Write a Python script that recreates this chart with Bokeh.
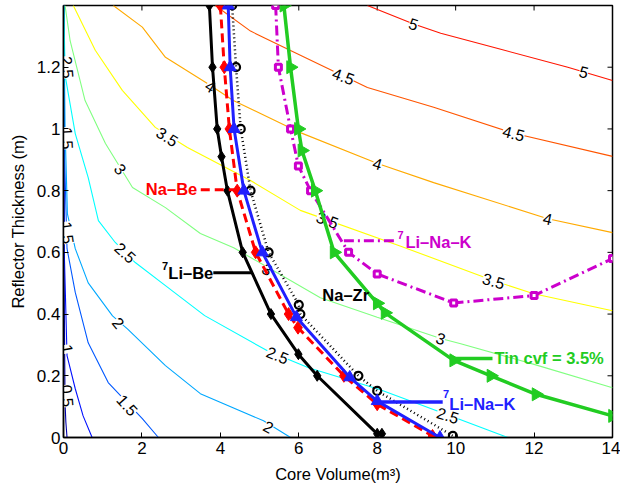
import math
from bokeh.plotting import figure
from bokeh.models import Range1d, FixedTicker, Label
from bokeh.core.properties import value
from bokeh.embed import file_html
from bokeh.resources import INLINE

FONT = "Liberation Sans"

# ---------------- data ----------------
x_ticks = [0, 2, 4, 6, 8, 10, 12, 14]
y_ticks = [0, 0.2, 0.4, 0.6, 0.8, 1.0, 1.2]

# contour lines (core volume, reflector thickness)
c05_v = [0.003, 0.01, 0.04, 0.06, 0.09]
c05_t = [1.4, 0.6, 0.11, 0.05, 0.0]
c10_v = [0.004, 0.02, 0.09, 0.3, 0.5, 0.73]
c10_t = [1.4, 0.6, 0.265, 0.158, 0.07, 0.0]
c15_v = [0.006, 0.03, 0.09, 0.3, 0.63, 1.14, 2.01, 2.42]
c15_t = [1.4, 0.9, 0.612, 0.47, 0.307, 0.178, 0.061, 0.0]
c20_v = [0.008, 0.04, 0.1, 0.3, 0.63, 1.25, 1.63, 2.6, 3.49, 5.1, 5.79]
c20_t = [1.4, 1.0, 0.725, 0.612, 0.501, 0.394, 0.352, 0.233, 0.142, 0.054, 0.0]
c25_v = [0.01, 0.03, 0.05, 0.3, 0.63, 0.89, 1.32, 1.83, 2.6, 3.6, 5.2, 6.25, 8.08, 9.79, 11.33]
c25_t = [1.4, 1.25, 1.167, 0.985, 0.842, 0.703, 0.632, 0.567, 0.492, 0.395, 0.281, 0.226, 0.155, 0.074, 0.0]
c30_v = [0.04, 0.17, 0.55, 1.07, 1.76, 2.6, 3.49, 4.34, 6.55, 8.0, 9.62, 10.13, 12.0, 14.0]
c30_t = [1.4, 1.285, 1.092, 0.953, 0.81, 0.745, 0.661, 0.615, 0.453, 0.39, 0.321, 0.304, 0.237, 0.161]
c35_v = [0.25, 0.81, 1.5, 2.34, 3.16, 4.77, 6.04, 8.6, 10.97, 11.99, 14.0]
c35_t = [1.4, 1.255, 1.125, 1.005, 0.94, 0.833, 0.736, 0.62, 0.508, 0.466, 0.411]
c40_v = [1.27, 2.01, 2.6, 3.67, 4.33, 6.04, 8.01, 9.44, 12.35, 14.0]
c40_t = [1.4, 1.33, 1.232, 1.147, 1.092, 0.988, 0.888, 0.826, 0.709, 0.664]
c45_v = [3.87, 4.77, 6.04, 7.75, 9.44, 11.48, 14.0]
c45_t = [1.4, 1.317, 1.239, 1.134, 1.07, 0.986, 0.911]
c50_v = [7.75, 8.93, 9.62, 11.15, 12.86, 14.0]
c50_t = [1.4, 1.34, 1.31, 1.258, 1.2, 1.157]

contour_paths = [(c05_v, c05_t), (c10_v, c10_t), (c15_v, c15_t), (c20_v, c20_t),
                 (c25_v, c25_t), (c30_v, c30_t), (c35_v, c35_t), (c40_v, c40_t),
                 (c45_v, c45_t), (c50_v, c50_t)]
contour_colors = ["#0000aa", "#0010ff", "#0058ff", "#00a8ff", "#00ffff",
                  "#80ff80", "#ffff00", "#ffaa00", "#ff5500", "#ff1500"]

# contour labels
clab_text = ["5", "5", "4.5", "4.5", "4", "4", "4", "3.5", "3.5", "3.5",
             "3", "3", "3", "2.5", "2.5", "2.5", "2.5", "2", "2", "1.5",
             "1.5", "1.5", "1", "0.5"]
clab_x = [8.93, 13.27, 7.14, 11.48, 3.75, 8.01, 12.35, 2.65, 6.73, 10.97,
          1.45, 5.2, 9.62, 1.58, 5.46, 9.8, 0.1, 1.4, 5.23, 0.1,
          1.63, 0.1, 0.1, 0.1]
clab_y = [1.34, 1.185, 1.171, 0.986, 1.138, 0.888, 0.709, 0.975, 0.705, 0.508,
          0.87, 0.545, 0.321, 0.599, 0.267, 0.072, 1.2, 0.372, 0.035, 0.97,
          0.105, 0.664, 0.287, 0.135]
clab_ang = [-18, -15, -20, -15, -32, -17, -13, -32, -20, -16,
            -52, -30, -18, -42, -22, -17, -85, -50, -28, -87,
            -48, -82, -80, -85]

# series
libe_v = [3.72, 3.8, 3.92, 4.03, 4.18, 4.57, 5.29, 5.99, 6.47, 8.0, 8.12]
libe_t = [1.4, 1.2, 1.0, 0.91, 0.8, 0.6, 0.4, 0.27, 0.2, 0.012, 0.012]
nabe_v = [4.0, 4.1, 4.23, 4.43, 4.9, 5.74, 5.98, 7.15, 8.0, 9.41]
nabe_t = [1.4, 1.2, 1.0, 0.8, 0.6, 0.4, 0.356, 0.2, 0.108, 0.005]
linak_v = [4.2, 4.25, 4.35, 4.6, 5.07, 5.94, 7.3, 8.0, 9.6]
linak_t = [1.4, 1.2, 1.0, 0.8, 0.6, 0.39, 0.195, 0.118, 0.0]
nazr_v = [4.3, 4.4, 4.52, 4.77, 5.23, 6.0, 6.04, 7.52, 8.0, 9.93]
nazr_t = [1.4, 1.2, 1.0, 0.8, 0.6, 0.43, 0.4, 0.2, 0.151, 0.005]
linak2_v = [5.41, 5.48, 5.79, 5.99, 6.3, 7.27, 8.0, 9.95, 12.0, 14.0]
linak2_t = [1.4, 1.2, 1.0, 0.88, 0.8, 0.6, 0.53, 0.436, 0.46, 0.58]
tin_v = [5.62, 5.79, 5.99, 6.08, 6.42, 6.9, 8.0, 8.2, 9.95, 10.9, 12.05, 14.0]
tin_t = [1.4, 1.2, 1.0, 0.93, 0.8, 0.6, 0.435, 0.404, 0.25, 0.2, 0.14, 0.07]

BLACK = "#000000"
RED = "#ff0000"
BLUE = "#2020ff"
MAGENTA = "#cc00cc"
GREEN = "#22cc22"

X_MAX = x_ticks[-1]
Y_MAX = 1.4

# ---------------- figure ----------------
p = figure(width=620, height=491, x_range=Range1d(0, X_MAX), y_range=Range1d(0, Y_MAX),
           output_backend="svg", toolbar_location=None,
           min_border_left=63, min_border_right=8, min_border_top=5, min_border_bottom=54)
p.xgrid.visible = False
p.ygrid.visible = False
p.outline_line_color = "black"
p.outline_line_width = 1.5
p.outline_line_alpha = 1.0
p.background_fill_color = "white"
p.border_fill_color = "white"

for ax, ticks in ((p.xaxis[0], x_ticks), (p.yaxis[0], y_ticks)):
    ax.ticker = FixedTicker(ticks=ticks)
    ax.major_tick_in = 5
    ax.major_tick_out = 0
    ax.minor_tick_line_color = None
    ax.axis_line_width = 1.5
    ax.major_tick_line_width = 1
    ax.major_label_text_font = FONT
    ax.major_label_text_font_size = "17px"
    ax.major_label_text_color = "black"
    ax.axis_label_text_font = FONT
    ax.axis_label_text_font_size = "16.5px"
    ax.axis_label_text_font_style = "normal"
    ax.axis_label_text_color = "black"

p.xaxis[0].axis_label = "Core Volume(m³)"
p.xaxis[0].major_label_standoff = 4
p.xaxis[0].axis_label_standoff = 8
p.yaxis[0].axis_label = "Reflector Thickness (m)"
p.yaxis[0].major_label_standoff = 3
p.yaxis[0].axis_label_standoff = 7

# inner ticks on the top and right edges of the box (half clipped by the frame)
p.scatter(x_ticks, [Y_MAX] * len(x_ticks), marker="dash", size=10, angle=math.pi / 2,
          line_color="black", line_width=1)
p.scatter([X_MAX] * len(y_ticks), y_ticks, marker="dash", size=10,
          line_color="black", line_width=1)

# contours
for (cv, ct), col in zip(contour_paths, contour_colors):
    p.line(cv, ct, line_color=col, line_width=1.1)

p.text(x=clab_x, y=clab_y, text=clab_text, angle=[math.radians(a) for a in clab_ang],
       text_font=value(FONT), text_font_size="16px", text_color="black",
       text_align="center", text_baseline="middle", background_fill_color="white")

# series
p.line(libe_v, libe_t, line_color=BLACK, line_width=3)
p.scatter(libe_v, libe_t, marker="diamond", size=11, fill_color=BLACK, line_color=BLACK)

p.line(nazr_v, nazr_t, line_color=BLACK, line_width=2.5, line_dash="1 3")
p.scatter(nazr_v, nazr_t, marker="circle", size=8, fill_color=None, line_color=BLACK, line_width=2.2)

p.line(nabe_v, nabe_t, line_color=RED, line_width=3, line_dash="9 5")
p.scatter(nabe_v, nabe_t, marker="diamond", size=13, fill_color=RED, line_color=RED)

p.line(linak_v, linak_t, line_color=BLUE, line_width=3)
p.scatter(linak_v, linak_t, marker="triangle", size=12, fill_color=BLUE, line_color=BLUE)

p.line(linak2_v, linak2_t, line_color=MAGENTA, line_width=3, line_dash="10 4 2 4")
p.scatter(linak2_v, linak2_t, marker="square", size=6, fill_color="white", line_color=MAGENTA, line_width=3)

p.line(tin_v, tin_t, line_color=GREEN, line_width=3.5)
p.scatter(tin_v, tin_t, marker="triangle", size=13, angle=-math.pi / 2,
          fill_color=GREEN, line_color=GREEN)

# annotation leader lines
p.line([3.5, 4.43], [0.803, 0.803], line_color=RED, line_width=3, line_dash="9 5")
p.line([3.82, 4.81], [0.534, 0.534], line_color=BLACK, line_width=3)
p.line([7.15, 8.52], [0.638, 0.638], line_color=MAGENTA, line_width=3, line_dash="10 4 2 4")
p.line([8.0, 9.67], [0.115, 0.115], line_color=BLUE, line_width=3.5)
p.line([10.0, 10.94], [0.256, 0.256], line_color=GREEN, line_width=3.5)


def lab(x, y, text, color, align="left", size="16.5px"):
    p.add_layout(Label(x=x, y=y, text=text, text_color=color, text_font=FONT,
                       text_font_size=size, text_font_style="bold",
                       text_align=align, text_baseline="middle"))


lab(3.41, 0.806, "Na–Be", RED, "right")
lab(3.82, 0.534, "Li–Be", BLACK, "right")
lab(2.67, 0.556, "7", BLACK, "right", "11px")
lab(6.6, 0.462, "Na–Zr", BLACK)
lab(8.52, 0.657, "7", MAGENTA, "left", "11px")
lab(8.72, 0.635, "Li–Na–K", MAGENTA)
lab(9.68, 0.141, "7", BLUE, "left", "11px")
lab(9.84, 0.109, "Li–Na–K", BLUE)
lab(10.99, 0.257, "Tin cvf = 3.5%", GREEN)

open("out.html", "w").write(file_html(p, INLINE))
